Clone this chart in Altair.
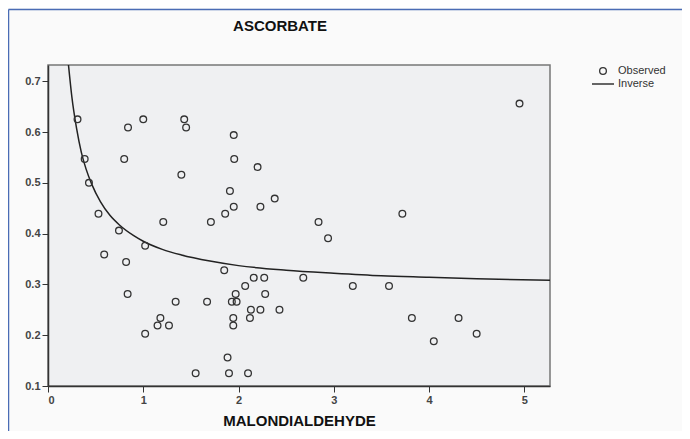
import altair as alt
import pandas as pd

# Observed points (MALONDIALDEHYDE, ASCORBATE)
obs_x = [0.31, 0.84, 1.00, 1.43, 1.45, 0.385, 0.80, 0.43, 1.40, 0.53, 1.21, 0.745, 1.02,
         0.59, 0.82, 0.836, 1.34, 1.18, 1.15, 1.27, 1.02, 1.55,
         1.95, 1.955, 2.20, 1.91, 1.95, 1.86, 1.71, 2.23, 2.38, 2.84, 2.94,
         1.85, 2.16, 2.27, 2.68, 3.20, 2.07, 1.97, 2.28, 1.67, 1.93, 1.98,
         2.13, 2.23, 2.43, 1.945, 2.12, 1.945, 1.885, 1.90, 2.10,
         4.95, 3.72, 3.58, 3.82, 4.31, 4.50, 4.05]
obs_y = [0.625, 0.609, 0.625, 0.625, 0.609, 0.547, 0.547, 0.500, 0.516, 0.439, 0.423, 0.406, 0.376,
         0.359, 0.344, 0.281, 0.266, 0.234, 0.219, 0.219, 0.203, 0.125,
         0.594, 0.547, 0.531, 0.484, 0.453, 0.439, 0.423, 0.453, 0.469, 0.423, 0.391,
         0.328, 0.313, 0.313, 0.313, 0.297, 0.297, 0.281, 0.281, 0.266, 0.266, 0.266,
         0.250, 0.250, 0.250, 0.234, 0.234, 0.219, 0.156, 0.125, 0.125,
         0.656, 0.439, 0.297, 0.234, 0.234, 0.203, 0.188]

# Fitted inverse curve
curve_x = [0.215, 0.25, 0.30, 0.35, 0.40, 0.46, 0.55, 0.65, 0.75, 0.90, 1.0, 1.2, 1.4,
           1.7, 2.0, 2.5, 3.0, 3.5, 4.0, 4.5, 5.27]
curve_y = [0.732, 0.670, 0.607, 0.560, 0.527, 0.497, 0.463, 0.436, 0.417, 0.396, 0.385,
           0.369, 0.358, 0.346, 0.337, 0.328, 0.322, 0.317, 0.314, 0.311, 0.308]

series = ["Observed", "Inverse"]
x_ticks = [0, 1, 2, 3, 4, 5]
y_ticks = [0.1, 0.2, 0.3, 0.4, 0.5, 0.6, 0.7]

obs_df = pd.DataFrame({"x": obs_x, "y": obs_y, "series": "Observed"})
curve_df = pd.DataFrame({"x": curve_x, "y": curve_y})

FONT = "Liberation Sans"
xs = alt.Scale(domain=[0, 5.27], nice=False, zero=False)
ys = alt.Scale(domain=[0.1, 0.732], nice=False, zero=False)

xaxis = alt.Axis(values=x_ticks, format="d", title="MALONDIALDEHYDE", grid=False,
                 tickSize=6, tickColor="#333", domainColor="#333", domainWidth=1.5,
                 labelFontSize=11, labelColor="#444", labelFont=FONT, labelFontWeight="bold",
                 titleFontSize=15, titleFont=FONT, titleFontWeight="bold", titleColor="#111",
                 titlePadding=8)
yaxis = alt.Axis(values=y_ticks, format=".1f", title=None, grid=False,
                 tickSize=6, tickColor="#333", domainColor="#333", domainWidth=1.5,
                 labelFontSize=11, labelColor="#444", labelFont=FONT, labelFontWeight="bold",
                 labelPadding=2)

legend = alt.Legend(title=None, orient="none", legendX=543, legendY=0,
                    labelFont=FONT, labelFontSize=11, labelColor="#333",
                    symbolStrokeColor="#333", symbolStrokeWidth=1.3,
                    symbolFillColor="transparent", rowPadding=1, clipHeight=12, labelOffset=3)

points = alt.Chart(obs_df).mark_point(filled=False, strokeWidth=1.3, color="#333", opacity=1).encode(
    x=alt.X("x:Q", scale=xs, axis=xaxis),
    y=alt.Y("y:Q", scale=ys, axis=yaxis),
    shape=alt.Shape("series:N", scale=alt.Scale(domain=series, range=["circle", "stroke"]),
                    legend=legend),
    size=alt.Size("series:N", scale=alt.Scale(domain=series, range=[45, 484]), legend=legend),
)

line = alt.Chart(curve_df).mark_line(color="#222", strokeWidth=1.5, interpolate="monotone", clip=True).encode(
    x=alt.X("x:Q", scale=xs),
    y=alt.Y("y:Q", scale=ys),
)

# outer blue frame (left and top edges of the output panel)
frame_df = pd.DataFrame({"k": [0]})
blue_left = alt.Chart(frame_df).mark_rule(color="#4a6cb5", strokeWidth=1.5, clip=False).encode(
    x=alt.value(-39.5), y=alt.value(-55.5), y2=alt.value(366))
blue_top = alt.Chart(frame_df).mark_rule(color="#4a6cb5", strokeWidth=1.5, clip=False).encode(
    x=alt.value(-39.5), x2=alt.value(634), y=alt.value(-55.5))

chart = alt.layer(blue_left, blue_top, line, points).properties(
    width=502, height=321,
    title=alt.TitleParams("ASCORBATE", font=FONT, fontSize=15, fontWeight="bold", color="#111",
                          anchor="middle", frame="group", dx=-19, offset=-25),
    autosize=alt.AutoSizeParams(type="none"),
    padding={"left": 40, "top": 57, "right": 132, "bottom": 45},
    background="#fafafa",
).configure_view(
    fill="#eff0f2", stroke="#777", strokeWidth=1.5,
)

chart.save("out.html", embed_options={"renderer": "svg", "actions": False})
